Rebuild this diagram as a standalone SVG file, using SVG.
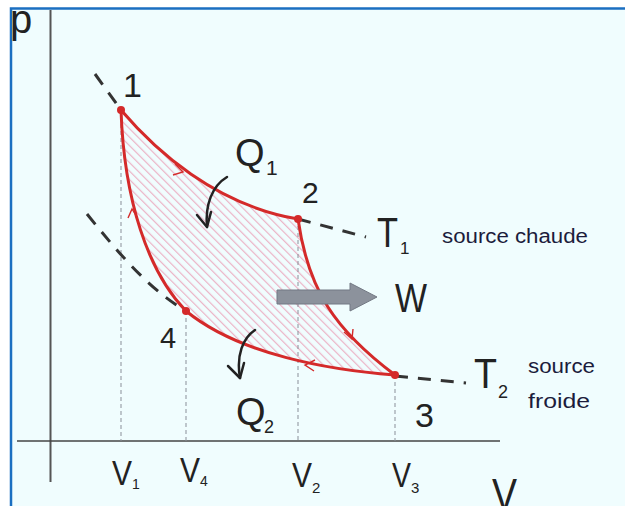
<svg xmlns="http://www.w3.org/2000/svg" width="625" height="506" viewBox="0 0 625 506">
<style>
.lbl{font-family:"Liberation Sans",Arial,sans-serif;fill:#222}
.src{font-family:"Liberation Sans",Arial,sans-serif;fill:#1c1c3c;font-size:20px}
.iso{fill:none;stroke:#333;stroke-width:3;stroke-dasharray:13 10}
.vdash{fill:none;stroke:#8a8f99;stroke-width:1;stroke-dasharray:4 3}
.cyc{fill:none;stroke:#d42a2a;stroke-width:3;stroke-linecap:round}
.chev{fill:none;stroke:#d42a2a;stroke-width:1.4}
.qarr{fill:none;stroke:#222;stroke-width:2.5;stroke-linecap:round;stroke-linejoin:round}
.pt{fill:#d42a2a}
</style>
<defs>
<pattern id="hatch" patternUnits="userSpaceOnUse" width="6" height="6" patternTransform="rotate(-45)">
<rect x="0" y="0" width="1.2" height="6" fill="#ebb2c5"/>
</pattern>
<clipPath id="cycleClip">
<path d="M121,110 C155,150 215,205 298,219 C308,290 335,330 395,375 C330,370 240,355 186,311 C148,272 124,200 121,110 Z"/>
</clipPath>
</defs>
<rect x="0" y="0" width="625" height="506" fill="#ffffff"/>
<rect x="11" y="8.5" width="630" height="520" fill="#f0fdfe" stroke="#1b6fc1" stroke-width="2.5"/>
<g id="axes">
<line x1="50.5" y1="10" x2="50.5" y2="482" stroke="#555" stroke-width="2"/>
<line x1="17" y1="441" x2="500" y2="441" stroke="#444" stroke-width="1.6"/>
<text class="lbl" x="10" y="33" font-size="40">p</text>
<text class="lbl" x="492" y="510" font-size="45" textLength="25" lengthAdjust="spacingAndGlyphs">V</text>
</g>
<g id="hatching">
<rect x="100" y="100" width="320" height="290" fill="url(#hatch)" clip-path="url(#cycleClip)"/>
</g>
<g id="guides">
<line class="vdash" x1="121" y1="110" x2="121" y2="441"/>
<line class="vdash" x1="186" y1="311" x2="186" y2="441"/>
<line class="vdash" x1="298" y1="219" x2="298" y2="441"/>
<line class="vdash" x1="395" y1="375" x2="395" y2="441"/>
</g>
<g id="isotherms">
<path class="iso" d="M95,74 L121,110"/>
<path class="iso" d="M298,219 Q332,228 366,237"/>
<path class="iso" d="M87,214 C120,255 150,290 186,311"/>
<path class="iso" d="M395,376 L466,383"/>
</g>
<g id="connectors">
<path id="c12" class="cyc" d="M121,110 C155,150 215,205 298,219"/>
<path id="c23" class="cyc" d="M298,219 C308,290 335,330 395,375"/>
<path id="c34" class="cyc" d="M395,375 C330,370 240,355 186,311"/>
<path id="c41" class="cyc" d="M186,311 C148,272 124,200 121,110"/>
<path class="chev" d="M175,164 L183,172 L173,175"/>
<path class="chev" d="M128,218 L132,209 L137,217"/>
<path class="chev" d="M344,332 L352,339 L353,329"/>
<path class="chev" d="M315,360 L305,365 L314,371"/>
</g>
<g id="node1">
<circle class="pt" cx="121" cy="110" r="4"/>
<text class="lbl" x="123" y="97" font-size="34">1</text>
</g>
<g id="node2">
<circle class="pt" cx="298" cy="219" r="4"/>
<text class="lbl" x="302" y="203" font-size="30">2</text>
</g>
<g id="node3">
<circle class="pt" cx="395" cy="375" r="4"/>
<text class="lbl" x="415" y="427" font-size="34">3</text>
</g>
<g id="node4">
<circle class="pt" cx="186" cy="311" r="4"/>
<text class="lbl" x="160" y="348" font-size="29">4</text>
</g>
<g id="Q1">
<path class="qarr" d="M227,177 C212,186 205,205 207,227"/>
<path class="qarr" d="M197,215 L207,227 L211,212"/>
<text class="lbl" x="235" y="166" font-size="38">Q</text>
<text class="lbl" x="266" y="175" font-size="21">1</text>
</g>
<g id="Q2">
<path class="qarr" d="M255,330 C243,338 236,355 240,378"/>
<path class="qarr" d="M228,366 L240,378 L244,363"/>
<text class="lbl" x="236" y="425" font-size="38">Q</text>
<text class="lbl" x="264" y="433" font-size="18">2</text>
</g>
<g id="W">
<polygon points="277,290 350,290 350,283 377,297 350,311 350,304 277,304" fill="#8c929c" stroke="#737984" stroke-width="1"/>
<text class="lbl" x="395" y="312" font-size="40" textLength="32" lengthAdjust="spacingAndGlyphs">W</text>
</g>
<g id="T1">
<text class="lbl" x="377" y="247" font-size="42" textLength="21" lengthAdjust="spacingAndGlyphs">T</text>
<text class="lbl" x="400" y="254" font-size="17">1</text>
<text class="src" x="442" y="243" textLength="146" lengthAdjust="spacingAndGlyphs">source chaude</text>
</g>
<g id="T2">
<text class="lbl" x="474" y="388" font-size="43" textLength="23" lengthAdjust="spacingAndGlyphs">T</text>
<text class="lbl" x="498" y="398" font-size="18">2</text>
<text class="src" x="528" y="373" textLength="67" lengthAdjust="spacingAndGlyphs">source</text>
<text class="src" x="528" y="408" textLength="62" lengthAdjust="spacingAndGlyphs">froide</text>
</g>
<g id="Vlabels">
<text class="lbl" x="112" y="485" font-size="35" textLength="20" lengthAdjust="spacingAndGlyphs">V</text>
<text class="lbl" x="132" y="489" font-size="14">1</text>
<text class="lbl" x="180" y="482" font-size="35" textLength="20" lengthAdjust="spacingAndGlyphs">V</text>
<text class="lbl" x="200" y="486" font-size="14">4</text>
<text class="lbl" x="292" y="487" font-size="35" textLength="20" lengthAdjust="spacingAndGlyphs">V</text>
<text class="lbl" x="312" y="493" font-size="15">2</text>
<text class="lbl" x="392" y="487" font-size="35" textLength="19" lengthAdjust="spacingAndGlyphs">V</text>
<text class="lbl" x="411" y="493" font-size="15">3</text>
</g>
</svg>
